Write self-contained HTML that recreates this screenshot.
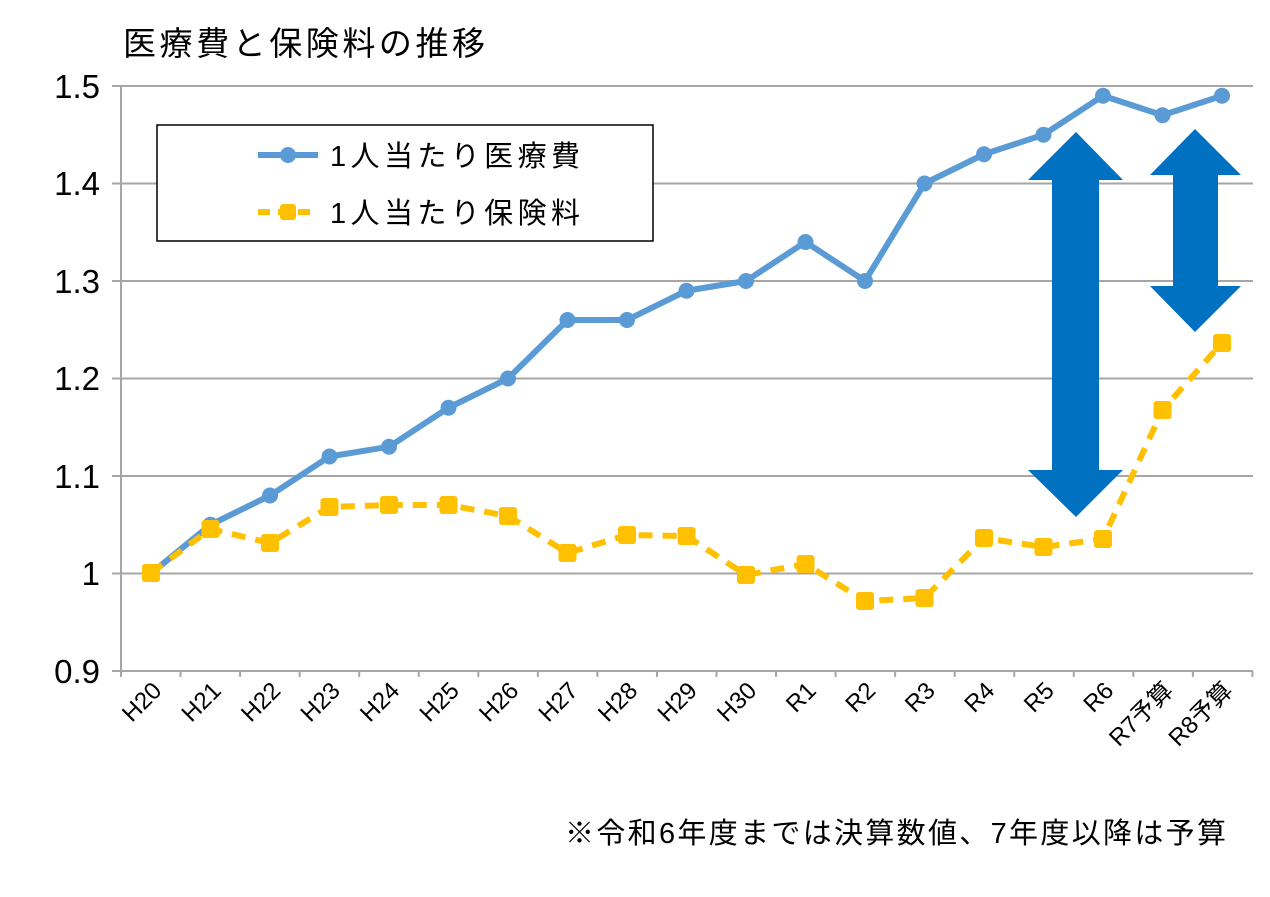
<!DOCTYPE html>
<html><head><meta charset="utf-8"><style>
body{margin:0;background:#fff;width:1270px;height:892px;overflow:hidden}
text{font-family:"Liberation Sans","Noto Sans CJK JP",sans-serif;fill:#000}
</style></head><body>
<svg width="1270" height="892" xmlns="http://www.w3.org/2000/svg">
<text x="123" y="55" font-size="33" textLength="362" lengthAdjust="spacing">医療費と保険料の推移</text>
<g stroke="#a6a6a6" stroke-width="2">
<line x1="121" y1="86" x2="1253" y2="86"/>
<line x1="121" y1="183.5" x2="1253" y2="183.5"/>
<line x1="121" y1="281" x2="1253" y2="281"/>
<line x1="121" y1="378.5" x2="1253" y2="378.5"/>
<line x1="121" y1="476" x2="1253" y2="476"/>
<line x1="121" y1="573.5" x2="1253" y2="573.5"/>
<line x1="112" y1="671" x2="1253" y2="671"/>
<line x1="121" y1="86" x2="121" y2="677"/>
<line x1="112" y1="86" x2="121" y2="86"/><line x1="112" y1="183.5" x2="121" y2="183.5"/><line x1="112" y1="281" x2="121" y2="281"/><line x1="112" y1="378.5" x2="121" y2="378.5"/><line x1="112" y1="476" x2="121" y2="476"/><line x1="112" y1="573.5" x2="121" y2="573.5"/>
</g>
<g stroke="#a6a6a6" stroke-width="2" id="ticks"></g>
<g font-size="33" text-anchor="end">
<text x="100" y="98">1.5</text><text x="100" y="195">1.4</text><text x="100" y="293">1.3</text><text x="100" y="390">1.2</text><text x="100" y="488">1.1</text><text x="100" y="585">1</text><text x="100" y="683">0.9</text>
</g>
<g id="xl" font-size="24" text-anchor="end"></g>
<polyline fill="none" stroke="#5b9bd5" stroke-width="6" stroke-linejoin="round" points="151,573.5 210.5,524.75 270,495.5 329.5,456.5 389,446.75 448.5,407.75 508,378.5 567.5,320 627,320 686.5,290.75 746,281 805.5,242 865,281 924.5,183.5 984,154.25 1043.5,134.75 1103,95.75 1162.5,115.25 1222,95.75"/>
<g fill="#5b9bd5" id="bm"></g>
<polyline fill="none" stroke="#ffc000" stroke-width="6" stroke-dasharray="14,10" points="151,573 210.5,529 270,543 329.5,507 389,505 448.5,505 508,516 567.5,553 627,535 686.5,536 746,575 805.5,564 865,601 924.5,598 984,538 1043.5,547 1103,539 1162.5,410 1222,343"/>
<g fill="#ffc000" id="om"></g>
<polygon fill="#0070c0" points="1076,132 1123,180 1099,180 1099,470 1123,470 1076,517 1028,470 1052,470 1052,180 1028,180"/>
<polygon fill="#0070c0" points="1195,129 1241,175 1218,175 1218,286 1241,286 1195,332 1150,286 1173,286 1173,175 1150,175"/>
<rect x="157" y="125" width="496" height="116" fill="#fff" stroke="#000" stroke-width="1.5"/>
<line x1="258" y1="155" x2="318" y2="155" stroke="#5b9bd5" stroke-width="6"/>
<circle cx="288" cy="155" r="8" fill="#5b9bd5"/>
<text x="330" y="166" font-size="29" textLength="250" lengthAdjust="spacing">1人当たり医療費</text>
<line x1="258" y1="212" x2="318" y2="212" stroke="#ffc000" stroke-width="6" stroke-dasharray="12,8"/>
<rect x="280" y="204" width="16" height="16" rx="3" fill="#ffc000"/>
<text x="330" y="223" font-size="29" textLength="250" lengthAdjust="spacing">1人当たり保険料</text>
<text x="565" y="843" font-size="29" textLength="661" lengthAdjust="spacing">※令和6年度までは決算数値、7年度以降は予算</text>
</svg>
<script>
var ns="http://www.w3.org/2000/svg";
var labs=["H20","H21","H22","H23","H24","H25","H26","H27","H28","H29","H30","R1","R2","R3","R4","R5","R6","R7予算","R8予算"];
var b=[573.5,524.75,495.5,456.5,446.75,407.75,378.5,320,320,290.75,281,242,281,183.5,154.25,134.75,95.75,115.25,95.75];
var o=[573,529,543,507,505,505,516,553,535,536,575,564,601,598,538,547,539,410,343];
var t=document.getElementById("ticks"),xl=document.getElementById("xl"),bm=document.getElementById("bm"),om=document.getElementById("om");
for(var i=0;i<=19;i++){var x=121+59.55*i;var l=document.createElementNS(ns,"line");l.setAttribute("x1",x);l.setAttribute("x2",x);l.setAttribute("y1",671);l.setAttribute("y2",677);t.appendChild(l);}
for(var i=0;i<19;i++){var x=151+59.5*i;
var tx=document.createElementNS(ns,"text");tx.setAttribute("transform","translate("+(x+12)+",692) rotate(-45)");tx.textContent=labs[i];xl.appendChild(tx);
var c=document.createElementNS(ns,"circle");c.setAttribute("cx",x);c.setAttribute("cy",b[i]);c.setAttribute("r",8);bm.appendChild(c);
var r=document.createElementNS(ns,"rect");r.setAttribute("x",x-9);r.setAttribute("y",o[i]-9);r.setAttribute("width",18);r.setAttribute("height",18);r.setAttribute("rx",3);om.appendChild(r);}
</script>
</body></html>
